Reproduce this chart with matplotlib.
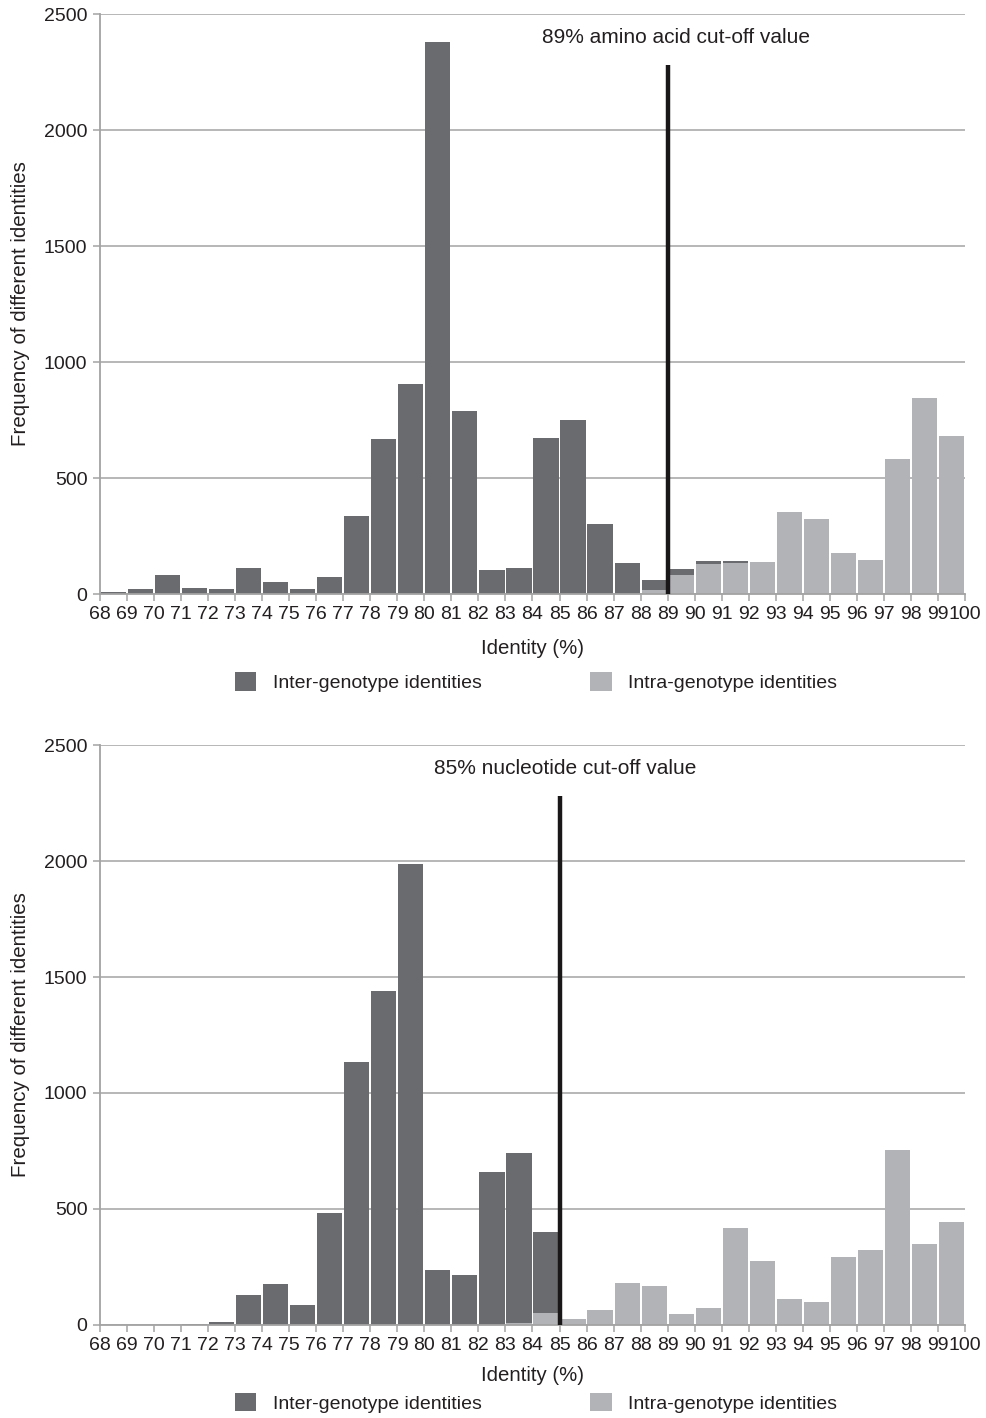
import numpy as np
import matplotlib.pyplot as plt
from matplotlib.patches import Patch

plt.rcParams['font.family'] = ['Liberation Sans', 'DejaVu Sans']

# identity bins: each bar covers [k, k+1)
identity = np.arange(68, 100)
tick_labels = [str(v) for v in range(68, 101)]

# amino acid identities
aa_inter = [10, 20, 82, 25, 20, 112, 50, 20, 75, 336, 668, 905, 2379, 789, 103, 110,
            672, 750, 302, 134, 43, 27, 12, 7, 0, 0, 0, 0, 0, 0, 0, 0]
aa_intra = [0, 0, 0, 0, 0, 0, 0, 0, 0, 0, 0, 0, 0, 0, 0, 0,
            0, 0, 0, 0, 17, 81, 129, 135, 140, 353, 323, 177, 147, 582, 845, 681]

# nucleotide identities
nt_inter = [0, 0, 0, 3, 12, 129, 177, 86, 483, 1134, 1440, 1987, 237, 216, 660, 731,
            348, 0, 0, 0, 0, 0, 0, 0, 0, 0, 0, 0, 0, 0, 0, 0]
nt_intra = [0, 0, 0, 0, 0, 0, 0, 0, 0, 0, 0, 0, 0, 0, 0, 10,
            53, 26, 65, 181, 168, 47, 75, 418, 276, 112, 99, 293, 323, 754, 349, 444]

panels = [
    (aa_inter, aa_intra, 89, '89% amino acid cut-off value', 89.3),
    (nt_inter, nt_intra, 85, '85% nucleotide cut-off value', 85.2),
]

dark = '#6a6b6f'
light = '#b2b3b7'
grey = '#a3a3a3'
ink = '#231f20'

fig = plt.figure(figsize=(9.87, 14.18), dpi=100)
boxes = [[0.1013, 0.5811, 0.8764, 0.409], [0.1013, 0.0656, 0.8764, 0.409]]
xlab_pad = [12, 9]
leg_y = [-0.152, -0.134]

for i, (inter, intra, cut, note, note_x) in enumerate(panels):
    ax = fig.add_axes(boxes[i])
    ax.set_axisbelow(True)
    ax.bar(identity + 0.5, intra, width=0.93, color=light, linewidth=0)
    ax.bar(identity + 0.5, inter, width=0.93, bottom=intra, color=dark, linewidth=0)
    ax.vlines(cut, 0, 2280, color='#1a1718', linewidth=3.2, zorder=3)
    ax.text(note_x, 2400, note, ha='center', va='center', fontsize=15, color=ink)

    ax.set_xlim(68, 100)
    ax.set_ylim(0, 2500)
    ax.set_xticks(np.arange(68, 101))
    ax.set_xticklabels(tick_labels)
    ax.set_yticks(np.arange(0, 2501, 500))
    ax.yaxis.grid(True, color=grey, linewidth=1.1)
    ax.tick_params(axis='both', colors=grey, labelcolor=ink, labelsize=14,
                   length=5, width=1.1)
    ax.tick_params(axis='y', pad=4)
    for side in ['top', 'right']:
        ax.spines[side].set_visible(False)
    for side in ['left', 'bottom']:
        ax.spines[side].set_color(grey)
        ax.spines[side].set_linewidth(1.3)

    ax.set_xlabel('Identity (%)', fontsize=14.7, color=ink, labelpad=xlab_pad[i])
    ax.set_ylabel('Frequency of different identities', fontsize=14.8, color=ink,
                  labelpad=10)

    handles = [Patch(facecolor=dark), Patch(facecolor=light)]
    ax.legend(handles, ['Inter-genotype identities', 'Intra-genotype identities'],
              loc='center', bbox_to_anchor=(0.504, leg_y[i]), ncol=2,
              frameon=False, fontsize=14, handlelength=1.1, handleheight=1.1,
              handletextpad=0.85, columnspacing=5.6, labelcolor=ink)

fig.savefig('out.png', dpi=100)
